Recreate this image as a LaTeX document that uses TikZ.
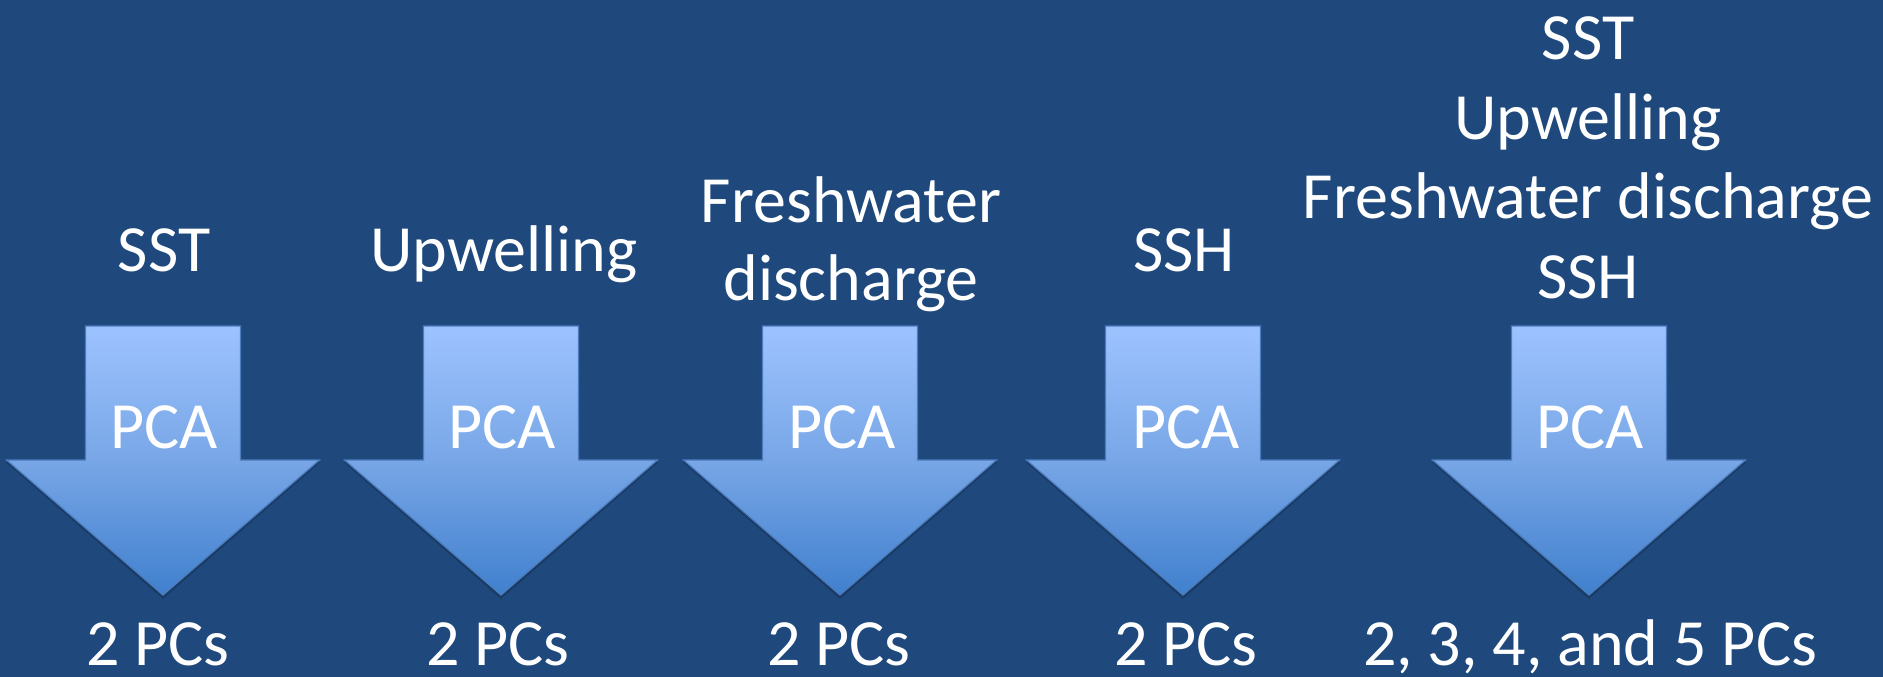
\documentclass[tikz,border=0pt]{standalone}
\usepackage{fontspec}
\setmainfont{Carlito}
\definecolor{bg}{RGB}{31,73,125}
\definecolor{atop}{RGB}{157,195,255}
\definecolor{amid}{RGB}{120,166,230}
\definecolor{abot}{RGB}{64,128,206}
\definecolor{aedge}{RGB}{76,124,188}
\begin{document}
\begin{tikzpicture}[x=1pt,y=-1pt,
  lbl/.style={text=white,font=\fontsize{66}{79.5}\selectfont,align=center,inner sep=0pt,anchor=base},
  arrowshape/.style={top color=atop,bottom color=abot,middle color=amid,draw=aedge,line width=1.2pt,line join=miter}]
\fill[bg] (0,0) rectangle (1883,677);
\useasboundingbox (0,0) rectangle (1883,677);
\foreach \c/\n in {163/1,501/2,840/3,1183/4,1589/5}{
  \fill[black,opacity=0.18] (\c-77.5,328) -- (\c+77.5,328) -- (\c+77.5,462) -- (\c+157.5,462) -- (\c,599) -- (\c-157.5,462) -- (\c-77.5,462) -- cycle;
  \shade[arrowshape] (\c-77.5,326) -- (\c+77.5,326) -- (\c+77.5,460) -- (\c+156.5,460) -- (\c,595) -- (\c-156.5,460) -- (\c-77.5,460) -- cycle;
}
% input labels (base anchor = baseline of the last line)
\node[lbl] (in1) at (164,271) {SST};
\node[lbl] (in2) at (504,271) {Upwelling};
\node[lbl,font=\fontsize{66}{78}\selectfont] (in3) at (851,300) {Freshwater\\discharge};
\node[lbl] (in4) at (1184,271) {SSH};
\node[lbl] (in5) at (1588,298) {SST\\Upwelling\\Freshwater discharge\\SSH};
% PCA labels
\node[lbl] (p1) at (164,448) {PCA};
\node[lbl] (p2) at (502,448) {PCA};
\node[lbl] (p3) at (842,448) {PCA};
\node[lbl] (p4) at (1186,448) {PCA};
\node[lbl] (p5) at (1590,448) {PCA};
% outputs
\node[lbl] (o1) at (158,665) {2 PCs};
\node[lbl] (o2) at (498,665) {2 PCs};
\node[lbl] (o3) at (839,665) {2 PCs};
\node[lbl] (o4) at (1186,665) {2 PCs};
\node[lbl] (o5) at (1590,665) {2, 3, 4, and 5 PCs};
\end{tikzpicture}
\end{document}
